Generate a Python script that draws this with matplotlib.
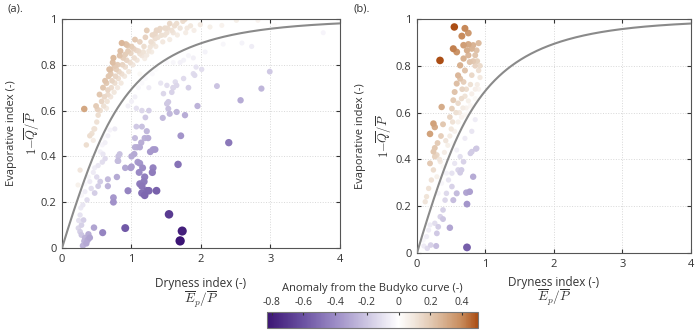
import numpy as np
import matplotlib
matplotlib.use("Agg")
import matplotlib.pyplot as plt
from matplotlib.colors import LinearSegmentedColormap, Normalize

plt.rcParams['font.family'] = ['Open Sans', 'DejaVu Sans']
plt.rcParams['mathtext.fontset'] = 'cm'

# panel (a): catchments, dryness index vs evaporative index
xa = [0.32, 0.51, 0.86, 0.92, 0.94, 0.83, 0.91, 0.70, 0.76, 0.66, 0.64,
      1.07, 1.12, 1.17, 1.22, 1.27, 1.31, 1.34, 1.36, 1.41, 1.43, 1.34, 1.29, 1.19,
      1.51, 1.55, 1.60, 1.65, 1.74, 1.80, 1.48, 1.77, 1.99, 2.13, 2.30, 2.51, 2.82, 3.06,
      0.45, 0.47, 0.43, 0.50, 0.52, 0.49, 0.55, 0.57, 0.54, 0.60, 0.61, 0.59, 0.62,
      0.65, 0.66, 0.64, 0.67, 0.68, 0.70, 0.71, 0.72, 0.70, 0.73, 0.75, 0.76, 0.77, 0.78, 0.74,
      0.80, 0.81, 0.82, 0.80, 0.84, 0.85, 0.86, 0.87, 0.88, 0.90, 0.91, 0.93, 0.95,
      0.96, 0.98, 0.99, 1.00, 1.02, 1.04, 1.03, 1.05, 1.08, 1.10, 1.12,
      1.15, 1.18, 1.20, 1.22, 1.25, 1.28, 1.30, 1.35, 1.38, 1.40, 1.45, 1.48, 1.52,
      1.55, 1.58, 1.62, 1.66, 1.70, 1.78, 1.85, 1.90,
      2.32, 2.59, 2.73, 3.76, 2.06, 2.01, 1.93, 1.89, 1.82, 1.75, 1.70, 1.60, 1.51, 1.91,
      1.89, 1.75, 1.63, 1.65, 1.60, 1.58, 1.51, 1.46, 1.53, 1.53, 1.82, 1.95, 2.23, 2.57,
      2.87, 2.99, 1.65, 1.55, 1.45, 1.77, 1.42,
      1.05, 1.10, 1.15, 1.20, 1.25, 1.30, 1.35, 1.40, 1.12, 0.95, 1.00,
      0.47, 0.52, 0.55, 0.50, 0.45, 0.47, 0.52, 0.58, 0.62, 0.59, 0.55, 0.58, 0.62, 0.59,
      0.66, 0.69, 0.76, 0.46, 0.26, 0.23, 0.35, 0.40,
      0.66, 0.66, 0.79, 0.74, 0.74, 0.95, 0.91, 1.00, 1.00, 0.81, 0.81, 1.05, 1.05, 1.15,
      1.19, 1.12, 1.14, 1.31, 1.34, 1.27, 1.09, 1.19, 1.12, 1.15, 1.18, 1.22, 1.15, 1.19,
      1.25, 1.36, 1.31, 1.30, 1.11, 1.12, 1.16, 0.99, 0.91, 0.585, 0.46, 1.54, 1.73, 1.70,
      1.67, 1.71, 2.40, 1.07, 1.20, 1.25, 1.15, 1.07, 1.51, 1.60, 1.08, 1.04, 0.80, 0.83,
      1.24, 1.22,
      0.35, 0.37, 0.33, 0.28, 0.26, 0.235, 0.28, 0.31, 0.26, 0.27, 0.30, 0.28, 0.33, 0.30,
      0.40, 0.38, 0.32, 0.24, 0.22, 0.36, 0.40, 0.33, 0.38, 0.42]
ya = [0.607, 0.605, 0.895, 0.89, 0.885, 0.84, 0.845, 0.78, 0.795, 0.67, 0.61,
      0.863, 0.848, 0.856, 0.842, 0.878, 0.892, 0.936, 0.951, 0.958, 0.929, 0.914, 0.856, 0.827,
      0.94, 0.98, 0.94, 0.98, 0.99, 0.96, 0.96, 0.999, 0.975, 0.965, 0.972, 0.994, 0.994, 0.972,
      0.47, 0.52, 0.50, 0.55, 0.58, 0.62, 0.60, 0.64, 0.67, 0.62, 0.66, 0.70, 0.73,
      0.64, 0.69, 0.72, 0.75, 0.78, 0.66, 0.70, 0.73, 0.76, 0.81, 0.68, 0.72, 0.75, 0.78, 0.83,
      0.70, 0.74, 0.77, 0.80, 0.86, 0.72, 0.76, 0.80, 0.83, 0.75, 0.79, 0.82, 0.86,
      0.77, 0.81, 0.85, 0.88, 0.80, 0.83, 0.87, 0.91, 0.82, 0.86, 0.90,
      0.84, 0.88, 0.92, 0.95, 0.86, 0.90, 0.93, 0.88, 0.92, 0.95, 0.90, 0.93, 0.96,
      0.91, 0.95, 0.97, 0.93, 0.96, 0.94, 0.97, 0.95,
      0.89, 0.895, 0.88, 0.94, 0.856, 0.78, 0.79, 0.83, 0.84, 0.82, 0.81, 0.81, 0.81, 0.754,
      0.761, 0.74, 0.725, 0.71, 0.70, 0.68, 0.71, 0.674, 0.638, 0.608, 0.70, 0.62, 0.707, 0.645,
      0.696, 0.77, 0.594, 0.586, 0.568, 0.58, 0.72,
      0.66, 0.70, 0.72, 0.74, 0.70, 0.76, 0.78, 0.80, 0.76, 0.62, 0.64,
      0.24, 0.27, 0.29, 0.31, 0.33, 0.35, 0.36, 0.375, 0.39, 0.41, 0.42, 0.45, 0.46, 0.48,
      0.49, 0.515, 0.52, 0.52, 0.34, 0.275, 0.45, 0.49,
      0.27, 0.30, 0.31, 0.22, 0.20, 0.25, 0.35, 0.355, 0.40, 0.40, 0.38, 0.44, 0.48, 0.53,
      0.48, 0.44, 0.46, 0.43, 0.43, 0.42, 0.375, 0.31, 0.28, 0.27, 0.29, 0.25, 0.24, 0.23,
      0.25, 0.25, 0.35, 0.33, 0.33, 0.37, 0.35, 0.35, 0.087, 0.067, 0.089, 0.147, 0.074, 0.031,
      0.365, 0.49, 0.46, 0.53, 0.57, 0.60, 0.60, 0.61, 0.63, 0.70, 0.44, 0.41, 0.38, 0.41,
      0.48, 0.51,
      0.02, 0.035, 0.044, 0.057, 0.071, 0.087, 0.10, 0.122, 0.144, 0.175, 0.188, 0.23, 0.246, 0.01,
      0.045, 0.06, 0.03, 0.12, 0.20, 0.21, 0.29, 0.28, 0.31, 0.26]

# panel (b)
xb = [0.545, 0.70, 0.75, 0.655, 0.53, 0.58, 0.336, 0.19, 0.24, 0.26, 0.36,
      0.68, 0.75, 0.82, 0.90, 0.80, 0.73, 0.87, 0.85, 0.75, 0.77, 0.68, 0.63, 0.60, 0.63,
      0.68, 0.58, 0.55, 0.53, 0.51, 0.48,
      0.85, 0.90, 0.92, 0.88, 0.85, 0.80, 0.78, 0.72, 0.70, 0.75, 0.80, 0.65, 0.60, 0.62,
      0.67, 0.72, 0.78, 0.85, 0.90, 0.92, 0.88, 0.82, 0.70, 0.66, 0.57, 0.52, 0.55, 0.48,
      0.45, 0.42, 0.40, 0.50, 0.60, 0.65, 0.70, 0.75,
      0.24, 0.29, 0.26, 0.30, 0.35, 0.38, 0.33,
      0.80, 0.85, 0.80, 0.70, 0.86, 0.78, 0.82, 0.87, 0.80, 0.77, 0.72, 0.73, 0.73, 0.48,
      0.38, 0.63, 0.65, 0.20, 0.28, 0.09, 0.14, 0.17, 0.19, 0.26, 0.31, 0.29,
      0.24, 0.21, 0.17, 0.14, 0.12, 0.19, 0.26, 0.34, 0.29, 0.38, 0.43, 0.36, 0.31, 0.24, 0.19,
      0.53, 0.58, 0.63, 0.68, 0.55, 0.46, 0.51, 0.43, 0.41, 0.38, 0.34, 0.58, 0.53, 0.60,
      0.51, 0.10, 0.15]
yb = [0.966, 0.96, 0.94, 0.927, 0.873, 0.859, 0.823, 0.509, 0.553, 0.538, 0.624,
      0.888, 0.892, 0.888, 0.897, 0.873, 0.866, 0.866, 0.845, 0.845, 0.816, 0.831, 0.802, 0.759, 0.745,
      0.731, 0.724, 0.688, 0.653, 0.617, 0.581,
      0.80, 0.78, 0.75, 0.72, 0.70, 0.76, 0.72, 0.70, 0.67, 0.65, 0.68, 0.66, 0.64, 0.60,
      0.62, 0.62, 0.63, 0.66, 0.70, 0.80, 0.82, 0.82, 0.78, 0.70, 0.60, 0.56, 0.52, 0.50,
      0.46, 0.48, 0.43, 0.53, 0.56, 0.58, 0.59, 0.60,
      0.433, 0.419, 0.449, 0.47, 0.50, 0.55, 0.40,
      0.62, 0.57, 0.52, 0.49, 0.445, 0.426, 0.326, 0.447, 0.433, 0.262, 0.258, 0.209, 0.024, 0.108,
      0.145, 0.343, 0.355, 0.034, 0.03, 0.055, 0.07, 0.098, 0.12, 0.127, 0.112, 0.084,
      0.355, 0.312, 0.276, 0.241, 0.219, 0.383, 0.412, 0.39, 0.326, 0.369, 0.341, 0.298, 0.255, 0.226, 0.191,
      0.469, 0.44, 0.412, 0.39, 0.383, 0.312, 0.284, 0.255, 0.226, 0.184, 0.155, 0.255, 0.226, 0.355,
      0.341, 0.03, 0.02]

cbar_ticks = [-0.8, -0.6, -0.4, -0.2, 0, 0.2, 0.4]
vmin, vmax = -0.83, 0.5


def budyko(phi):
    phi = np.asarray(phi, dtype=float)
    return np.sqrt(phi * np.tanh(1.0 / phi) * (1 - np.exp(-phi)))


# purple -> white -> brown, white sitting at zero
def pos(v):
    return (v - vmin) / (vmax - vmin)

cmap = LinearSegmentedColormap.from_list('budyko', [
    (0.0, '#3b1474'),
    (pos(-0.6), '#6b52a2'),
    (pos(-0.4), '#9c8cc6'),
    (pos(-0.2), '#cdc6e2'),
    (pos(0.0), '#ffffff'),
    (pos(0.1), '#f1e6dc'),
    (pos(0.2), '#e3cab4'),
    (pos(0.3), '#d5ab88'),
    (pos(0.4), '#c78a5a'),
    (1.0, '#ab4e15'),
])
norm = Normalize(vmin=vmin, vmax=vmax)

fig = plt.figure(figsize=(7, 3.3), dpi=100)
ax_a = fig.add_axes([0.0886, 0.2485, 0.397, 0.694])
ax_b = fig.add_axes([0.5957, 0.2333, 0.3914, 0.7091])

phi = np.linspace(0.005, 4, 400)

# (axes, x, y, ylabel x in fig px, formula x in fig px, xlabel offsets)
panels = [(ax_a, xa, ya, 12, 32, -0.153, -0.228),
          (ax_b, xb, yb, 361, 384, -0.124, -0.19)]

for ax, xs, ys, lab_px, frm_px, xl_off, xf_off in panels:
    xs = np.array(xs)
    ys = np.array(ys)
    anom = ys - budyko(xs)
    sizes = (0.72 * (4.8 + 5.5 * np.abs(anom))) ** 2
    order = np.argsort(np.abs(anom))
    ax.grid(True, color='#d8d8d8', linestyle=':', linewidth=0.7)
    ax.set_axisbelow(True)
    ax.scatter(xs[order], ys[order], c=anom[order], s=sizes[order], cmap=cmap, norm=norm,
               edgecolors='none', zorder=2)
    ax.plot(phi, budyko(phi), color='#8a8a8a', lw=1.5, zorder=3)
    ax.set_xlim(0, 4)
    ax.set_ylim(0, 1)
    ax.set_xticks([0, 1, 2, 3, 4])
    ax.set_yticks([0, 0.2, 0.4, 0.6, 0.8, 1])
    ax.set_yticklabels(['0', '0.2', '0.4', '0.6', '0.8', '1'])
    ax.tick_params(direction='in', length=3, labelsize=8, colors='#333333', pad=4,
                   top=True, right=True)
    for sp in ax.spines.values():
        sp.set_color('#555555')
        sp.set_linewidth(0.8)
    bb = ax.get_position()
    yc = bb.y0 + bb.height / 2
    fig.text(lab_px / 700, yc, 'Evaporative index (-)', rotation=90,
             ha='center', va='center', fontsize=8, color='#333333')
    fig.text(frm_px / 700, yc, r'$1\mathrm{-}\overline{Q}/\overline{P}$',
             rotation=90, ha='center', va='center', fontsize=9, color='#333333')
    ax.text(0.5, xl_off, 'Dryness index (-)', transform=ax.transAxes,
            ha='center', va='center', fontsize=8.5, color='#333333')
    ax.text(0.5, xf_off, r'$\overline{E}_p/\overline{P}$', transform=ax.transAxes,
            ha='center', va='center', fontsize=9.5, color='#333333')

fig.text(8 / 700, 1 - 9 / 330, '(a).', fontsize=8, ha='left', va='center', color='#333333')
fig.text(353 / 700, 1 - 9 / 330, '(b).', fontsize=8, ha='left', va='center', color='#333333')

cax = fig.add_axes([0.3814, 0.006, 0.3014, 0.0485])
sm = plt.cm.ScalarMappable(norm=norm, cmap=cmap)
cb = fig.colorbar(sm, cax=cax, orientation='horizontal', ticks=cbar_ticks)
cax.xaxis.set_ticks_position('top')
cax.xaxis.set_label_position('top')
cb.set_ticklabels(['-0.8', '-0.6', '-0.4', '-0.2', '0', '0.2', '0.4'])
cax.tick_params(direction='in', length=2, labelsize=7.5, colors='#333333', pad=3)
cb.set_label('Anomaly from the Budyko curve (-)', fontsize=8, color='#333333', labelpad=4)
cb.outline.set_edgecolor('#777777')
cb.outline.set_linewidth(0.8)

fig.savefig('out.png', dpi=100)
